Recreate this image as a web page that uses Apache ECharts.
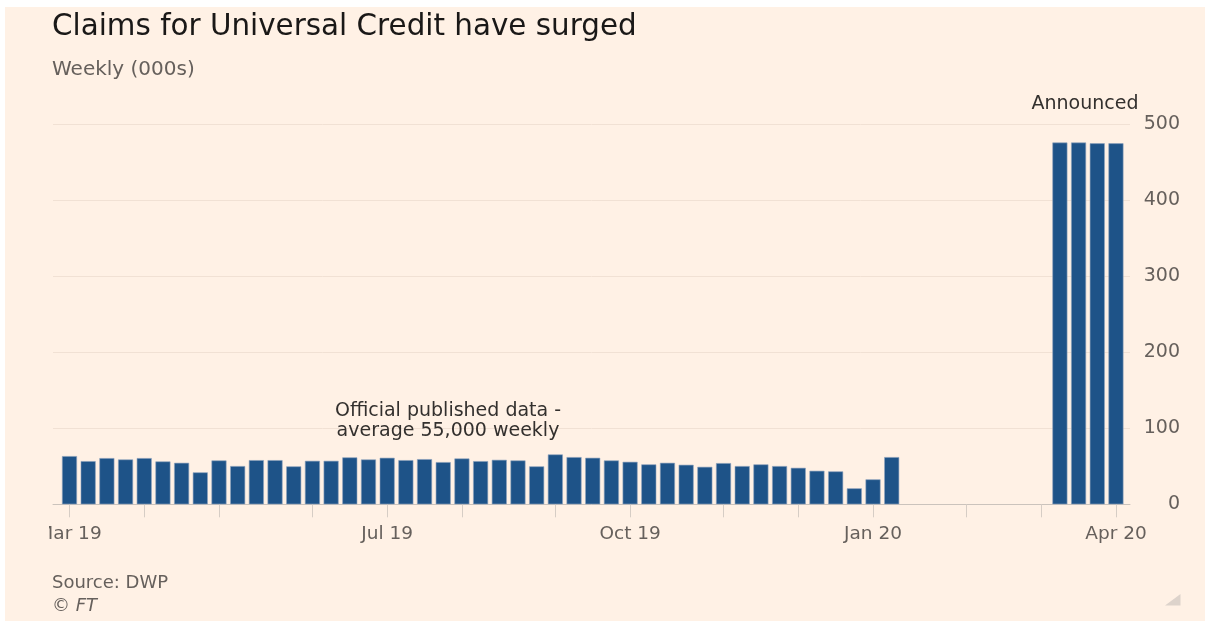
<!DOCTYPE html>
<html>
<head>
<meta charset="utf-8">
<title>Claims for Universal Credit have surged</title>
<script src="https://cdn.jsdelivr.net/npm/echarts@6/dist/echarts.min.js"></script>
<style>
  html, body { margin: 0; padding: 0; background: #fff; }
  .panel { position: absolute; left: 5px; top: 7px; width: 1200px; height: 614px; background: #fff1e5; }
  #chart { position: absolute; left: 0; top: 0; width: 1205px; height: 621px; }
</style>
</head>
<body>
<div class="panel"></div>
<div id="chart"></div>
<script>
// weekly periods (Thursday of each week)
const weeks = [
  '2019-03-07', '2019-03-14', '2019-03-21', '2019-03-28', '2019-04-04', '2019-04-11', '2019-04-18', '2019-04-25',
  '2019-05-02', '2019-05-09', '2019-05-16', '2019-05-23', '2019-05-30', '2019-06-06', '2019-06-13', '2019-06-20',
  '2019-06-27', '2019-07-04', '2019-07-11', '2019-07-18', '2019-07-25', '2019-08-01', '2019-08-08', '2019-08-15',
  '2019-08-22', '2019-08-29', '2019-09-05', '2019-09-12', '2019-09-19', '2019-09-26', '2019-10-03', '2019-10-10',
  '2019-10-17', '2019-10-24', '2019-10-31', '2019-11-07', '2019-11-14', '2019-11-21', '2019-11-28', '2019-12-05',
  '2019-12-12', '2019-12-19', '2019-12-26', '2020-01-02', '2020-01-09', '2020-01-16', '2020-01-23', '2020-01-30',
  '2020-02-06', '2020-02-13', '2020-02-20', '2020-02-27', '2020-03-05', '2020-03-12', '2020-03-19', '2020-03-26',
  '2020-04-02'
]
// official published data (000s), Mar 2019 - Jan 2020
const published = [
  63.4, 56.8, 60.8, 59.0, 60.8, 56.4, 54.6, 42.0, 57.7, 50.3, 58.1, 58.1, 49.9, 57.2, 57.2,
  61.7, 59.0, 61.2, 58.1, 59.4, 55.5, 60.3, 56.8, 58.5, 57.7, 49.9, 65.6, 62.1, 61.2, 57.7,
  55.9, 52.5, 54.6, 52.0, 49.3, 54.2, 50.3, 52.5, 50.3, 48.0, 44.1, 43.3, 21.0, 32.8, 62.1
]
// announced figures (000s), last four weeks
const announced = [476, 476, 475, 475]
const yTicks = [0, 100, 200, 300, 400, 500]
const labelMonths = [0, 3, 6, 9] // Jan, Apr, Jul, Oct

const monthNames = ['Jan', 'Feb', 'Mar', 'Apr', 'May', 'Jun', 'Jul', 'Aug', 'Sep', 'Oct', 'Nov', 'Dec']
const gap = weeks.length - published.length - announced.length
const claims = published.concat(new Array(gap).fill(null), announced)

const monthOf = (s) => Number(s.slice(5, 7)) - 1
const isMonthStart = (i) => i === 0 || monthOf(weeks[i]) !== monthOf(weeks[i - 1])

const bg = '#fff1e5'
const font = 'DejaVu Sans'

const option = {
  animation: false,
  textStyle: { fontFamily: font },
  title: [
    {
      text: 'Claims for Universal Credit have surged',
      left: 47, top: 8,
      textStyle: { fontSize: 29.4, fontWeight: 'normal', color: '#1a1817', fontFamily: font }
    },
    {
      text: 'Weekly (000s)',
      left: 47, top: 55,
      textStyle: { fontSize: 20, fontWeight: 'normal', color: '#66605c', fontFamily: font }
    },
    {
      text: 'Source: DWP',
      left: 47, top: 569,
      textStyle: { fontSize: 18, fontWeight: 'normal', color: '#66605c', fontFamily: font }
    },
    {
      text: '© FT',
      left: 47, top: 592,
      textStyle: { fontSize: 18, fontWeight: 'normal', fontStyle: 'italic', color: '#66605c', fontFamily: font }
    }
  ],
  grid: [
    { left: 53, right: 75, top: 124.3, bottom: 116.7 }, // frame: gridlines + baseline
    { left: 60.15, right: 79.7, top: 124.3, bottom: 116.7 } // bars
  ],
  xAxis: [
    {
      gridIndex: 0, type: 'value', min: 0, max: 1,
      axisLine: { show: true, lineStyle: { color: '#cbc3bc', width: 1 } },
      axisTick: { show: false }, axisLabel: { show: false }, splitLine: { show: false }
    },
    {
      gridIndex: 1, type: 'category', data: weeks,
      axisLine: { show: false },
      axisTick: {
        show: true, alignWithLabel: true, length: 13,
        interval: (i) => isMonthStart(i),
        lineStyle: { color: '#d6cdc5', width: 1 }
      },
      axisLabel: {
        interval: (i, v) => i === 0 || (i > 4 && isMonthStart(i) && labelMonths.includes(monthOf(v))),
        formatter: (v) => monthNames[monthOf(v)] + ' ' + v.slice(2, 4),
        color: '#66605c', fontSize: 18.5, margin: 20, fontFamily: font
      },
      splitLine: { show: false }
    }
  ],
  yAxis: [
    {
      gridIndex: 0, type: 'value', position: 'right',
      min: yTicks[0], max: yTicks[yTicks.length - 1], interval: 100,
      axisLine: { show: false }, axisTick: { show: false },
      axisLabel: { color: '#66605c', fontSize: 19, margin: 50, align: 'right', padding: [5, 0, 0, 0], fontFamily: font },
      splitLine: { show: true, lineStyle: { color: '#f1e1d4', width: 1 } }
    },
    {
      gridIndex: 1, type: 'value', min: 0, max: 500, show: false
    }
  ],
  series: [
    {
      type: 'bar', xAxisIndex: 1, yAxisIndex: 1,
      data: claims,
      barWidth: 15,
      itemStyle: { color: '#1e5388', borderColor: '#8ea3bd', borderWidth: 0.6 }
    }
  ],
  graphic: [
    { // clip the first axis label like the original
      type: 'rect', z: 100, shape: { x: 5, y: 515, width: 44, height: 35 },
      style: { fill: bg }
    },
    {
      type: 'text', z: 50, x: 448, y: 421,
      style: {
        text: 'Official published data -\naverage 55,000 weekly',
        fill: '#33302e', font: '19px "DejaVu Sans"', align: 'center', verticalAlign: 'middle', lineHeight: 20
      }
    },
    {
      type: 'text', z: 50, x: 1085, y: 104,
      style: { text: 'Announced', fill: '#33302e', font: '19px "DejaVu Sans"', align: 'center', verticalAlign: 'middle' }
    },
    {
      type: 'polygon', z: 50,
      shape: { points: [[1165, 605.5], [1180.5, 605.5], [1180.5, 594]] },
      style: { fill: '#ddd3cb' }
    }
  ]
}

const myChart = echarts.init(document.getElementById('chart'), null, { renderer: 'canvas' })
myChart.setOption(option)
</script>
</body>
</html>
